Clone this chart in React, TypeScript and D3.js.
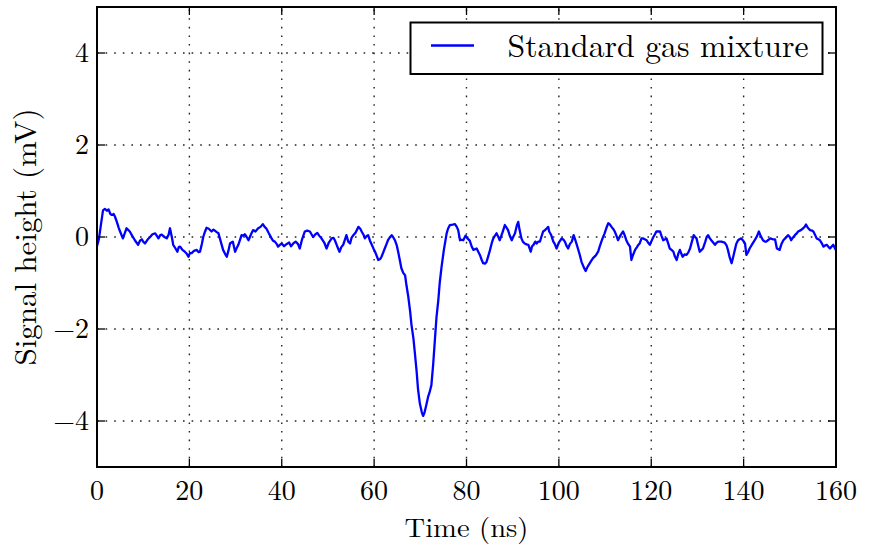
import React from "react";
import * as d3 from "d3";

const times = [
  0.0, 0.4, 0.9, 1.3, 1.7, 2.2, 2.5, 2.9, 3.2, 3.6, 3.9, 4.3, 4.7, 5.0, 5.6, 6.0, 6.4, 6.8, 7.1, 7.6,
  8.2, 8.9, 9.3, 9.7, 10.0, 10.4, 11.0, 11.5, 12.0, 12.6, 13.0, 13.3, 13.7, 14.0, 14.6, 15.1, 15.5, 15.8, 16.2, 16.5,
  17.0, 17.4, 17.7, 18.0, 18.5, 19.0, 19.4, 19.8, 20.1, 20.5, 21.0, 21.6, 22.0, 22.3, 22.7, 23.0, 23.4, 23.7, 24.2, 24.8,
  25.2, 25.5, 26.0, 26.3, 26.8, 27.3, 27.7, 28.1, 28.5, 28.8, 29.1, 29.4, 29.9, 30.2, 30.6, 31.0, 31.3, 31.7, 32.0, 32.4,
  32.8, 33.3, 33.8, 34.3, 34.9, 35.4, 35.9, 36.3, 36.7, 37.2, 37.8, 38.1, 38.5, 38.9, 39.2, 39.6, 40.0, 40.5, 41.1, 41.6,
  42.0, 42.5, 43.0, 43.5, 43.9, 44.4, 45.0, 45.5, 46.1, 46.5, 46.8, 47.2, 47.7, 48.1, 48.6, 49.2, 49.7, 50.2, 50.8, 51.2,
  51.5, 52.0, 52.5, 52.9, 53.3, 53.7, 54.0, 54.4, 54.8, 55.1, 55.5, 56.0, 56.6, 57.0, 57.3, 57.7, 58.0, 58.4, 58.7, 59.1,
  59.5, 59.9, 60.2, 60.6, 60.9, 61.3, 61.6, 62.0, 62.3, 62.7, 63.0, 63.4, 63.8, 64.1, 64.5, 64.9, 65.2, 65.6, 65.9, 66.3,
  66.7, 67.0, 67.4, 67.8, 68.1, 68.5, 68.8, 69.2, 69.5, 69.9, 70.3, 70.6, 70.9, 71.3, 71.7, 72.0, 72.4, 72.8, 73.2, 73.5,
  73.9, 74.2, 74.6, 75.1, 75.4, 75.7, 76.0, 76.4, 77.0, 77.5, 77.9, 78.2, 78.6, 79.0, 79.3, 79.8, 80.2, 80.7, 81.1, 81.5,
  82.2, 82.9, 83.3, 83.6, 84.0, 84.3, 84.7, 85.1, 85.5, 85.8, 86.1, 86.5, 86.9, 87.2, 87.8, 88.3, 88.7, 89.0, 89.4, 89.8,
  90.1, 90.5, 90.9, 91.2, 91.5, 91.9, 92.2, 92.6, 93.0, 93.4, 93.9, 94.2, 94.5, 94.9, 95.2, 95.5, 95.9, 96.2, 96.6, 97.0,
  97.4, 97.7, 97.9, 98.3, 98.8, 99.1, 99.5, 100.0, 100.6, 101.0, 101.3, 101.7, 102.0, 102.4, 102.8, 103.2, 103.6, 104.0, 104.5, 104.9,
  105.4, 105.8, 106.2, 106.7, 107.0, 107.4, 108.0, 108.5, 108.8, 109.2, 109.5, 109.9, 110.3, 110.7, 111.0, 111.4, 111.8, 112.1, 112.5, 112.8,
  113.3, 113.9, 114.2, 114.6, 115.0, 115.4, 115.7, 116.1, 116.5, 116.9, 117.2, 117.5, 117.9, 118.2, 118.6, 119.0, 119.3, 119.7, 120.0, 120.4,
  120.8, 121.1, 121.5, 121.9, 122.2, 122.6, 123.0, 123.3, 123.7, 124.0, 124.4, 124.8, 125.1, 125.5, 125.9, 126.2, 126.5, 126.8, 127.2, 127.6,
  128.0, 128.4, 128.8, 129.2, 129.5, 129.8, 130.2, 130.5, 130.9, 131.2, 131.7, 132.0, 132.3, 132.7, 133.0, 133.4, 133.8, 134.1, 134.5, 135.2,
  135.9, 136.3, 136.6, 137.0, 137.4, 137.7, 138.1, 138.4, 138.8, 139.1, 139.5, 139.9, 140.3, 140.6, 141.0, 141.3, 141.9, 142.4, 142.9, 143.3,
  143.7, 144.2, 144.6, 144.9, 145.4, 145.8, 146.3, 146.8, 147.2, 147.8, 148.2, 148.6, 149.1, 149.6, 150.0, 150.3, 150.7, 151.1, 151.5, 151.8,
  152.4, 152.9, 153.2, 153.5, 153.9, 154.4, 154.8, 155.1, 155.5, 155.8, 156.2, 156.5, 157.0, 157.3, 157.7, 158.0, 158.4, 158.7, 159.1, 159.4,
  159.9, 160.0,
];

const signal = [
  -0.2, -0.05, 0.3, 0.58, 0.61, 0.57, 0.6, 0.5, 0.48, 0.5, 0.44, 0.33, 0.2, 0.12, -0.03, 0.08, 0.19, 0.15, 0.12, 0.03,
  -0.07, -0.17, -0.08, -0.05, -0.1, -0.14, -0.05, 0.0, 0.06, 0.08, 0.02, -0.03, 0.04, 0.05, 0.0, -0.03, 0.05, 0.19, 0.0, -0.17,
  -0.25, -0.32, -0.22, -0.21, -0.28, -0.32, -0.36, -0.43, -0.35, -0.35, -0.3, -0.28, -0.33, -0.32, -0.15, 0.0, 0.12, 0.2, 0.18, 0.12,
  0.16, 0.14, 0.1, 0.08, -0.1, -0.28, -0.36, -0.43, -0.28, -0.14, -0.12, -0.1, -0.32, -0.25, -0.17, -0.05, 0.04, 0.03, 0.06, 0.0,
  -0.07, 0.05, 0.15, 0.12, 0.19, 0.22, 0.28, 0.22, 0.18, 0.08, -0.03, -0.08, -0.1, -0.15, -0.21, -0.17, -0.14, -0.2, -0.15, -0.12,
  -0.2, -0.14, -0.1, -0.15, -0.25, -0.05, 0.12, 0.14, 0.12, 0.05, 0.0, 0.05, 0.09, 0.03, -0.03, -0.12, -0.25, -0.12, -0.03, -0.02,
  -0.07, -0.2, -0.32, -0.22, -0.17, -0.05, 0.04, -0.1, -0.14, -0.02, 0.04, 0.1, 0.22, 0.18, 0.12, 0.05, -0.03, 0.02, 0.04, -0.08,
  -0.17, -0.26, -0.32, -0.42, -0.5, -0.48, -0.43, -0.33, -0.25, -0.15, -0.07, -0.01, 0.04, 0.0, -0.07, -0.18, -0.32, -0.52, -0.68, -0.78,
  -0.83, -1.05, -1.3, -1.62, -1.92, -2.2, -2.5, -2.92, -3.3, -3.62, -3.8, -3.89, -3.82, -3.65, -3.47, -3.38, -3.22, -2.75, -2.17, -1.75,
  -1.37, -1.0, -0.65, -0.28, -0.1, 0.08, 0.18, 0.26, 0.27, 0.28, 0.22, 0.15, -0.07, -0.06, -0.07, 0.03, -0.03, -0.08, -0.2, -0.28,
  -0.25, -0.39, -0.5, -0.57, -0.58, -0.55, -0.42, -0.28, -0.12, -0.03, 0.02, 0.08, 0.0, -0.07, 0.1, 0.26, 0.2, 0.15, 0.02, -0.07,
  0.0, 0.08, 0.25, 0.33, 0.15, -0.03, -0.1, -0.14, -0.16, -0.17, -0.32, -0.2, -0.17, -0.1, -0.14, -0.1, -0.1, 0.0, 0.12, 0.15,
  0.19, 0.22, 0.12, 0.05, -0.1, -0.15, -0.25, -0.12, -0.03, -0.06, -0.1, -0.2, -0.25, -0.15, -0.1, 0.04, -0.08, -0.21, -0.38, -0.54,
  -0.66, -0.74, -0.65, -0.57, -0.52, -0.46, -0.4, -0.32, -0.22, -0.1, -0.02, 0.08, 0.2, 0.3, 0.28, 0.22, 0.17, 0.12, 0.02, -0.07,
  0.03, 0.12, 0.05, -0.07, -0.15, -0.21, -0.5, -0.38, -0.28, -0.22, -0.17, -0.14, -0.03, -0.03, -0.05, -0.07, -0.12, -0.17, -0.1, -0.01,
  0.06, 0.12, 0.12, 0.12, 0.03, -0.07, -0.05, -0.03, -0.15, -0.25, -0.28, -0.32, -0.42, -0.5, -0.35, -0.28, -0.36, -0.43, -0.38, -0.39,
  -0.34, -0.25, -0.1, 0.04, 0.0, -0.03, -0.2, -0.32, -0.28, -0.25, -0.1, 0.0, 0.04, -0.03, -0.07, -0.12, -0.17, -0.13, -0.1, -0.1,
  -0.12, -0.18, -0.28, -0.45, -0.57, -0.45, -0.28, -0.15, -0.07, -0.05, -0.03, -0.08, -0.14, -0.39, -0.32, -0.25, -0.15, -0.07, 0.02, 0.12,
  0.02, -0.07, -0.1, -0.1, -0.06, -0.03, -0.05, -0.05, -0.25, -0.28, -0.15, -0.07, -0.02, 0.04, 0.0, -0.07, -0.01, 0.04, 0.08, 0.12,
  0.15, 0.19, 0.22, 0.27, 0.2, 0.15, 0.14, 0.12, 0.04, -0.03, -0.05, -0.07, -0.15, -0.21, -0.18, -0.17, -0.22, -0.25, -0.2, -0.17,
  -0.27, -0.25,
];

const xTicks = [0, 20, 40, 60, 80, 100, 120, 140, 160];
const yTicks = [-4, -2, 0, 2, 4];
const seriesName = "Standard gas mixture";
const xTitle = "Time (ns)";
const yTitle = "Signal height (mV)";

const W = 877;
const H = 544;
const L = 97;
const R = 836;
const T = 7;
const B = 467;
const FONT = '"Latin Modern Roman", "CMU Serif", "Liberation Serif", serif';

export default function App() {
  const x = d3.scaleLinear().domain([0, 160]).range([L, R]);
  const y = d3.scaleLinear().domain([-5, 5]).range([B, T]);
  const pts = times.map((t, i) => [t, signal[i]] as [number, number]);
  const line = d3
    .line<[number, number]>()
    .x((d) => x(d[0]))
    .y((d) => y(d[1]));

  const fmt = (v: number) => (v < 0 ? "\u2212" + Math.abs(v) : String(v));
  const tickLen = 8;

  return (
    <svg
      width={W}
      height={H}
      style={{ position: "absolute", left: 0, top: 0, background: "#fff", fontFamily: FONT }}
    >
      <defs>
        <clipPath id="plotclip">
          <rect x={L} y={T} width={R - L} height={B - T} />
        </clipPath>
      </defs>
      <rect x={0} y={0} width={W} height={H} fill="#fff" />
      {/* grid */}
      <g stroke="#222" strokeWidth={1.4} strokeDasharray="1.6 7">
        {xTicks.slice(1, -1).map((t) => (
          <line key={"gx" + t} x1={x(t)} x2={x(t)} y1={B} y2={T} />
        ))}
        {yTicks.map((t) => (
          <line key={"gy" + t} x1={L} x2={R} y1={y(t)} y2={y(t)} />
        ))}
      </g>
      {/* data */}
      <path
        d={line(pts) || ""}
        fill="none"
        stroke="#0000ff"
        strokeWidth={2.3}
        strokeLinejoin="round"
        clipPath="url(#plotclip)"
      />
      {/* ticks */}
      <g stroke="#000" strokeWidth={1.3}>
        {xTicks.map((t) => (
          <g key={"tx" + t}>
            <line x1={x(t)} x2={x(t)} y1={B} y2={B - tickLen} />
            <line x1={x(t)} x2={x(t)} y1={T} y2={T + tickLen} />
          </g>
        ))}
        {yTicks.map((t) => (
          <g key={"ty" + t}>
            <line x1={L} x2={L + tickLen} y1={y(t)} y2={y(t)} />
            <line x1={R} x2={R - tickLen} y1={y(t)} y2={y(t)} />
          </g>
        ))}
      </g>
      {/* legend */}
      <rect x={410.5} y={22.5} width={412} height={51.5} fill="#fff" stroke="#000" strokeWidth={2} />
      <line x1={431} x2={474} y1={45.5} y2={45.5} stroke="#0000ff" strokeWidth={2.3} />
      <text x={507.5} y={56.5} fontSize={31.5} fill="#000" textLength={301} lengthAdjust="spacingAndGlyphs">
        {seriesName}
      </text>
      {/* frame */}
      <rect x={L} y={T} width={R - L} height={B - T} fill="none" stroke="#000" strokeWidth={2} />
      {/* tick labels */}
      {xTicks.map((t) => (
        <text key={"lx" + t} x={x(t)} y={500} fontSize={28} textAnchor="middle" fill="#000">
          {fmt(t)}
        </text>
      ))}
      {yTicks.map((t) => (
        <text key={"ly" + t} x={89} y={y(t) + 9} fontSize={28} textAnchor="end" fill="#000">
          {fmt(t)}
        </text>
      ))}
      {/* axis titles */}
      <text
        x={(L + R) / 2}
        y={536.5}
        fontSize={26.5}
        textAnchor="middle"
        fill="#000"
        textLength={124}
        lengthAdjust="spacingAndGlyphs"
      >
        {xTitle}
      </text>
      <text
        transform={`translate(36, ${(T + B) / 2}) rotate(-90)`}
        fontSize={30.5}
        textAnchor="middle"
        fill="#000"
        textLength={257}
        lengthAdjust="spacingAndGlyphs"
      >
        {yTitle}
      </text>
    </svg>
  );
}
